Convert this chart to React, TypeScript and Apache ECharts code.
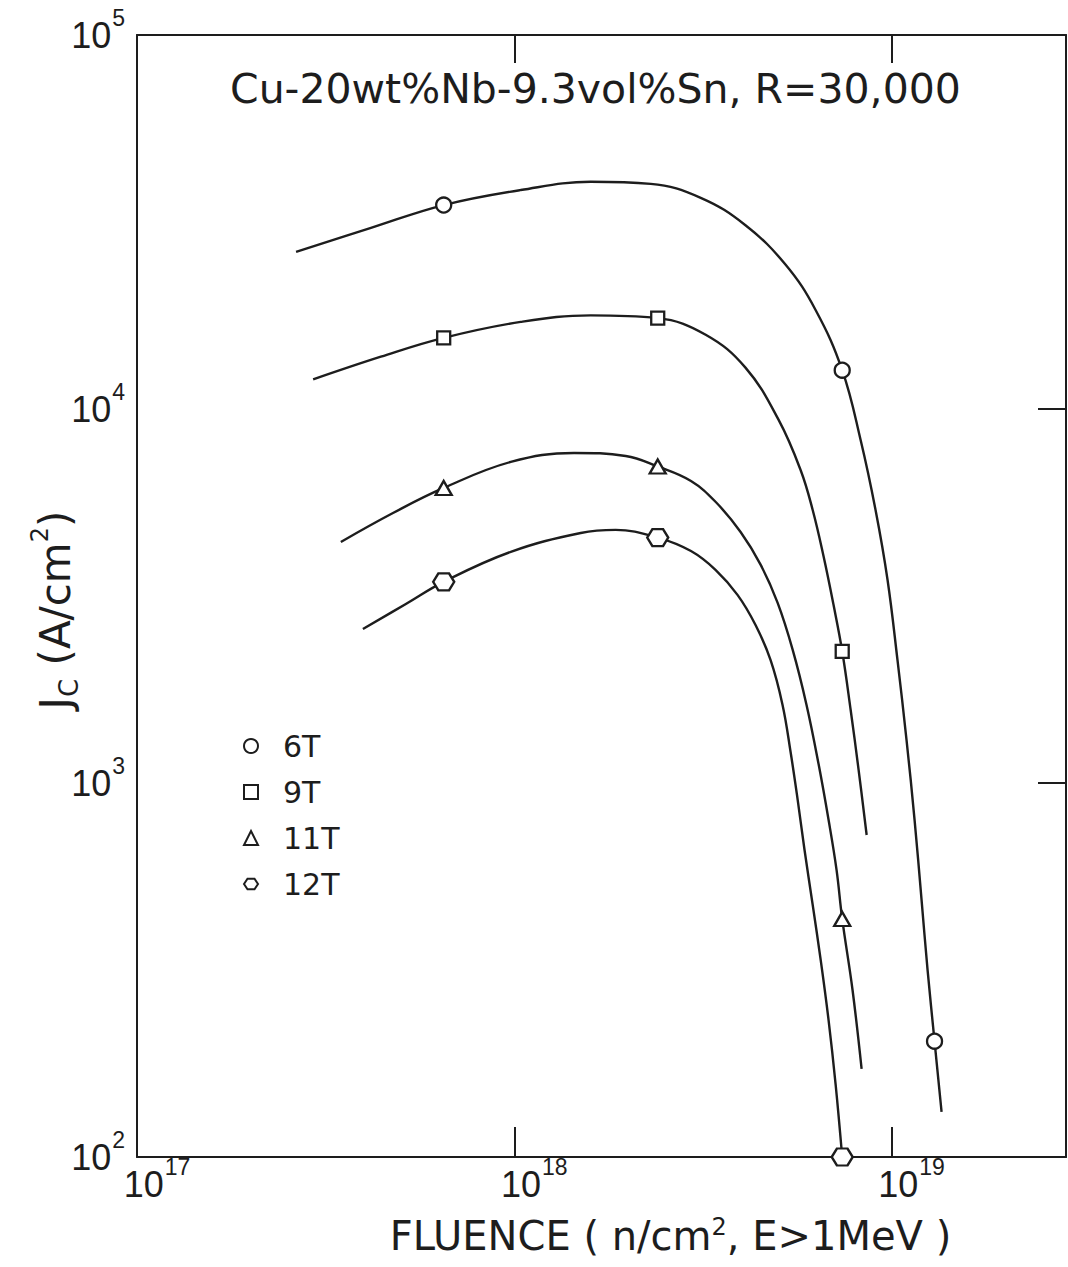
import React, { useEffect, useRef } from 'react';
import * as echarts from 'echarts';

// ---------- data (fluence in n/cm^2, Jc in A/cm^2) ----------
const legendNames = ['6T', '9T', '11T', '12T'];
const xTickValues = [1e17, 1e18, 1e19];
const yTickValues = [1e2, 1e3, 1e4, 1e5];

const marker6T = [[6.5e17, 35100], [7.4e18, 12700], [1.3e19, 204]];
const marker9T = [[6.5e17, 15500], [2.4e18, 17500], [7.4e18, 2250]];
const marker11T = [[6.5e17, 6150], [2.4e18, 7020], [7.4e18, 433]];
const marker12T = [[6.5e17, 3450], [2.4e18, 4530], [7.4e18, 100]];

const curve6T = [
  [2.64e17, 26300], [4.17e17, 30500], [6.5e17, 35100], [1.04e18, 38500], [1.594e18, 40500],
  [2.3e18, 40000], [3.12e18, 36700], [4.1e18, 31000], [5.24e18, 24300], [6.29e18, 18400],
  [7.4e18, 12700], [8.28e18, 8260], [9.07e18, 5370], [9.76e18, 3490], [1.037e19, 2130],
  [1.096e19, 1300], [1.151e19, 796], [1.201e19, 487], [1.246e19, 316], [1.3e19, 204],
  [1.357e19, 132],
];
const curve9T = [
  [2.93e17, 12000], [4.43e17, 13800], [6.5e17, 15500], [1.04e18, 17100], [1.594e18, 17800],
  [2.4e18, 17500], [3.216e18, 15800], [4.1e18, 12900], [5.02e18, 9350], [5.74e18, 6870],
  [6.18e18, 5370], [6.61e18, 4020], [7.02e18, 2990], [7.4e18, 2250], [7.79e18, 1570],
  [8.18e18, 1083], [8.59e18, 726],
];
const curve11T = [
  [3.47e17, 4410], [4.77e17, 5270], [6.5e17, 6150], [9.79e17, 7220], [1.44e18, 7630],
  [1.974e18, 7490], [2.4e18, 7020], [2.94e18, 6420], [3.42e18, 5640], [3.98e18, 4690],
  [4.5e18, 3830], [4.99e18, 3030], [5.47e18, 2270], [5.95e18, 1620], [6.41e18, 1120],
  [6.81e18, 796], [7.15e18, 585], [7.4e18, 433], [7.88e18, 280], [8.33e18, 172],
];
const curve12T = [
  [3.97e17, 2580], [5.16e17, 3010], [6.5e17, 3450], [9.79e17, 4150], [1.5e18, 4660],
  [1.857e18, 4750], [2.4e18, 4530], [2.94e18, 4170], [3.42e18, 3710], [3.91e18, 3180],
  [4.36e18, 2645], [4.78e18, 2130], [5.14e18, 1620], [5.4e18, 1210], [5.64e18, 900],
  [5.88e18, 662], [6.18e18, 472], [6.49e18, 336], [6.81e18, 232], [7.11e18, 156],
  [7.4e18, 100],
];

const INK = '#1d1d1d';
const NUM_FONT = "'Liberation Sans', Arial, sans-serif";
const TXT_FONT = "'DejaVu Sans', 'Noto Sans', sans-serif";

const expLabel = (v: number) => {
  const e = Math.round(Math.log10(v));
  return `{b|10}{s|${e}}`;
};

const labelRich = {
  b: { fontSize: 36, fontFamily: NUM_FONT, color: INK, lineHeight: 36, verticalAlign: 'bottom' },
  s: { fontSize: 23, fontFamily: NUM_FONT, color: INK, lineHeight: 23, verticalAlign: 'bottom', padding: [0, 0, 24, 1] },
};

const HEX = 'path://M0,6 L4,0 L12,0 L16,6 L12,12 L4,12 Z';

export default function App() {
  const ref = useRef<HTMLDivElement>(null);

  useEffect(() => {
    if (!ref.current) return;
    const chart = echarts.init(ref.current, undefined, { renderer: 'svg' });

    const lineSeries = (data: number[][]) => ({
      type: 'line',
      data,
      smooth: 0.4,
      showSymbol: false,
      symbol: 'none',
      lineStyle: { color: INK, width: 2.4 },
      z: 2,
      silent: true,
    });
    const markerSeries = (name: string, data: number[][], symbol: string, size: any) => ({
      type: 'scatter',
      name,
      data,
      symbol,
      symbolSize: size,
      itemStyle: { color: '#ffffff', borderColor: INK, borderWidth: 2.3, opacity: 1 },
      z: 4,
      clip: false,
    });

    const axisLineStyle = { show: true, lineStyle: { color: INK, width: 2 } };

    chart.setOption({
      animation: false,
      backgroundColor: '#ffffff',
      title: {
        text: 'Cu-20wt%Nb-9.3vol%Sn, R=30,000',
        left: 230,
        top: 68,
        padding: 0,
        textStyle: { fontSize: 41, fontWeight: 'normal', fontFamily: TXT_FONT, color: INK },
      },
      legend: {
        data: legendNames,
        orient: 'vertical',
        left: 238,
        top: 726,
        padding: 5,
        itemWidth: 14,
        itemHeight: 14,
        itemGap: 16,
        selectedMode: false,
        itemStyle: { color: '#ffffff', borderColor: INK, borderWidth: 2, opacity: 1 },
        textStyle: { fontSize: 30, lineHeight: 30, fontFamily: TXT_FONT, color: INK, padding: [0, 0, 0, 20] },
      },
      grid: { left: 137, right: 2, top: 35, bottom: 110, show: false, containLabel: false, outerBoundsMode: 'none' },
      xAxis: [
        {
          type: 'log',
          logBase: 10,
          min: xTickValues[0],
          max: 2.9e19,
          position: 'bottom',
          axisLine: axisLineStyle,
          axisTick: { show: true, inside: true, length: 30, lineStyle: { color: INK, width: 2 } },
          axisLabel: {
            formatter: expLabel,
            rich: labelRich,
            margin: 9,
            showMaxLabel: false,
            showMinLabel: true,
            padding: [0, 0, 0, 40],
          },
          splitLine: { show: false },
          name: 'FLUENCE ( n/cm{s|2}, E>1MeV )',
          nameLocation: 'middle',
          nameGap: 58,
          nameMoveOverlap: false,
          nameTextStyle: {
            fontSize: 40,
            fontFamily: TXT_FONT,
            color: INK,
            padding: [0, 0, 0, 138],
            rich: {
              s: { fontSize: 24, fontFamily: TXT_FONT, color: INK, padding: [0, 0, 18, 0] },
            },
          },
        },
        {
          type: 'log',
          logBase: 10,
          min: xTickValues[0],
          max: 2.9e19,
          position: 'top',
          axisLine: axisLineStyle,
          axisTick: { show: true, inside: true, length: 28, lineStyle: { color: INK, width: 2 } },
          axisLabel: { show: false },
          splitLine: { show: false },
        },
      ],
      yAxis: [
        {
          type: 'log',
          logBase: 10,
          min: yTickValues[0],
          max: yTickValues[yTickValues.length - 1],
          position: 'left',
          axisLine: axisLineStyle,
          axisTick: { show: false },
          axisLabel: { formatter: expLabel, rich: labelRich, margin: 12 },
          splitLine: { show: false },
          name: '{n|J}{c|C}{n| (A/cm}{s|2}{n|)}',
          nameLocation: 'middle',
          nameGap: 53,
          nameMoveOverlap: false,
          nameTextStyle: {
            padding: [0, 28, 0, 0],
            rich: {
              n: { fontSize: 42, fontFamily: TXT_FONT, color: INK, lineHeight: 42, verticalAlign: 'bottom', padding: [0, 0, 8, 0] },
              c: { fontSize: 26, fontFamily: TXT_FONT, color: INK, lineHeight: 26, verticalAlign: 'bottom', padding: [0, 0, 2, 0] },
              s: { fontSize: 24, fontFamily: TXT_FONT, color: INK, lineHeight: 24, verticalAlign: 'bottom', padding: [0, 0, 32, 0] },
            },
          },
        },
        {
          type: 'log',
          logBase: 10,
          min: yTickValues[0],
          max: yTickValues[yTickValues.length - 1],
          position: 'right',
          axisLine: axisLineStyle,
          axisTick: { show: true, inside: true, length: 28, lineStyle: { color: INK, width: 2 } },
          axisLabel: { show: false },
          splitLine: { show: false },
        },
      ],
      series: [
        lineSeries(curve6T),
        lineSeries(curve9T),
        lineSeries(curve11T),
        lineSeries(curve12T),
        markerSeries('6T', marker6T, 'circle', 15),
        markerSeries('9T', marker9T, 'rect', 13),
        markerSeries('11T', marker11T, 'triangle', [16, 14]),
        markerSeries('12T', marker12T, HEX, [21, 17]),
      ],
    });

    return () => chart.dispose();
  }, []);

  return (
    <div
      ref={ref}
      style={{ position: 'absolute', left: 0, top: 0, width: 1068, height: 1267, background: '#fff' }}
    />
  );
}
